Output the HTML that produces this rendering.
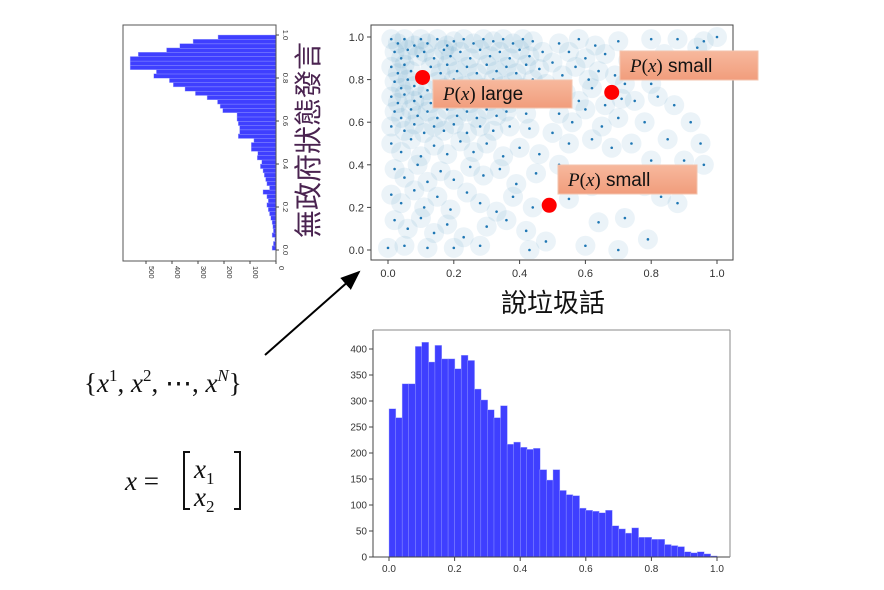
<!DOCTYPE html>
<html><head><meta charset="utf-8">
<style>
html,body{margin:0;padding:0;background:#fff;}
svg{display:block;font-family:"Liberation Sans","DejaVu Sans",sans-serif;}
.math{font-family:"Liberation Serif","DejaVu Serif",serif;font-style:italic;}
</style></head>
<body>
<svg id="root" width="884" height="590" viewBox="0 0 884 590" xmlns="http://www.w3.org/2000/svg">
<defs>
<linearGradient id="sal" x1="0" y1="0" x2="0" y2="1">
<stop offset="0" stop-color="#f7b89d"/><stop offset="1" stop-color="#f19d7c"/>
</linearGradient>
<marker id="ah" markerWidth="10" markerHeight="8" refX="9" refY="4" orient="auto">
<path d="M0,0 L10,4 L0,8 z" fill="#000"/>
</marker>
<clipPath id="sclip"><rect x="372" y="26" width="360" height="233"/></clipPath>
</defs>
<g id="scatter"></g>
<g id="bottomHist"></g>
<g id="leftHist"></g>

<text x="318" y="140" font-size="28" fill="#4a2350" text-anchor="middle" transform="rotate(-90 318 140)" font-family="'Liberation Sans','Noto Sans CJK TC',sans-serif">無政府狀態發言</text>
<text x="553" y="312" font-size="26" fill="#111" text-anchor="middle" font-family="'Liberation Sans','Noto Sans CJK TC',sans-serif">說垃圾話</text>

<line x1="265" y1="355" x2="359" y2="272" stroke="#000" stroke-width="2" marker-end="url(#ah)"/>

<text x="84" y="392" font-size="27" class="math" fill="#111"><tspan font-style="normal">{</tspan>x<tspan font-style="normal" font-size="17" dy="-11">1</tspan><tspan dy="11" font-style="normal">, </tspan>x<tspan font-style="normal" font-size="17" dy="-11">2</tspan><tspan dy="11" font-style="normal">, ⋯, </tspan>x<tspan font-size="17" dy="-11">N</tspan><tspan dy="11" font-style="normal">}</tspan></text>
<g>
<text x="125" y="490" font-size="27" class="math" fill="#111">x <tspan font-style="normal">=</tspan></text>
<path d="M190,452 h-6 v57 h6 M234,452 h6 v57 h-6" fill="none" stroke="#111" stroke-width="2"/>
<text x="194" y="478" font-size="27" class="math" fill="#111">x<tspan font-style="normal" font-size="17" dy="6">1</tspan></text>
<text x="194" y="506" font-size="27" class="math" fill="#111">x<tspan font-style="normal" font-size="17" dy="6">2</tspan></text>
</g>
</svg>
<script>
// ---- data ----
const xHistCounts = [285,268,333,333,405,413,375,407,381,381,362,388,378,323,302,283,268,291,217,221,211,207,209,168,148,168,128,120,118,94,90,88,85,90,60,54,46,56,38,38,34,34,24,22,20,10,8,10,6,2];
// y bins from 0.00 upward
const yHistCounts = [15,10,5,15,10,12,15,20,25,30,35,30,35,50,25,35,40,45,50,60,55,72,70,95,95,85,145,140,140,145,150,150,205,215,225,265,310,350,395,410,470,460,561,561,561,530,421,370,319,223];
const xHistTicks = [0,0.2,0.4,0.6,0.8,1.0];
const xHistTickLabels = ["0.0","0.2","0.4","0.6","0.8","1.0"];
const countTicks = [0,50,100,150,200,250,300,350,400];
const leftCountTicks = [0,100,200,300,400,500];
const scatterX = [.01,.03,.05,.08,.1,.12,.15,.18,.2,.23,.26,.29,.32,.35,.38,.41,.44,
.02,.04,.06,.09,.11,.14,.17,.19,.22,.25,.28,.31,.34,.37,.4,.43,.47,
.01,.03,.05,.07,.13,.16,.18,.21,.24,.27,.3,.33,.36,.39,.42,.46,.5,
.02,.04,.06,.08,.12,.15,.17,.2,.23,.26,.29,.32,.35,.38,.41,.44,.48,
.01,.03,.05,.08,.1,.13,.16,.19,.22,.25,.28,.31,.34,.37,.4,.45,
.02,.04,.07,.09,.12,.15,.18,.21,.24,.27,.3,.33,.36,.42,
.01,.05,.08,.11,.14,.17,.2,.24,.28,.32,.37,.43,
.52,.55,.58,.6,.63,.66,.7,.73,.53,.57,.61,.64,.69,.72,.76,.54,.58,.62,.66,.71,.75,.8,.52,.56,.6,.65,.7,.78,.5,.55,.62,.68,.74,
.01,.04,.07,.1,.14,.18,.22,.26,.3,.35,.4,.46,
.02,.05,.09,.12,.16,.2,.25,.29,.34,.39,.45,.52,.58,
.01,.04,.08,.11,.15,.19,.24,.28,.33,.38,.44,.55,
.02,.06,.1,.14,.18,.23,.3,.36,.42,
.0,.05,.12,.2,.28,.43,.48,.6,.7,
.8,.88,.96,1.0,.84,.9,.94,.82,.87,.92,.85,.95,.8,.9,.96,.78,.88,.83,.72,.79,.64,.62];
const scatterY = [.99,.97,.99,.96,.99,.97,.99,.96,.98,.99,.97,.99,.98,.99,.97,.99,.98,
.93,.9,.94,.91,.93,.9,.94,.91,.93,.9,.94,.91,.93,.9,.94,.91,.93,
.86,.83,.87,.84,.86,.83,.87,.84,.86,.83,.87,.84,.86,.83,.87,.85,.88,
.79,.76,.8,.77,.75,.79,.76,.8,.77,.79,.76,.8,.77,.79,.76,.8,.78,
.72,.69,.73,.7,.72,.69,.73,.7,.72,.69,.73,.7,.72,.69,.73,.71,
.65,.62,.66,.63,.65,.62,.66,.63,.65,.62,.66,.63,.65,.64,
.58,.56,.59,.55,.58,.56,.59,.55,.58,.56,.58,.57,
.97,.93,.99,.9,.96,.92,.98,.89,.82,.86,.8,.84,.82,.78,.85,.74,.7,.76,.68,.71,.7,.78,.64,.6,.66,.58,.62,.6,.55,.5,.52,.48,.5,
.5,.46,.52,.44,.49,.45,.51,.46,.5,.44,.48,.45,
.38,.34,.4,.32,.37,.33,.39,.35,.38,.31,.36,.4,.33,
.26,.22,.28,.2,.25,.19,.27,.22,.18,.25,.2,.24,
.14,.1,.15,.08,.12,.06,.11,.14,.09,
.01,.02,.01,.01,.02,.0,.04,.02,.0,
.99,.99,.98,1.0,.92,.88,.95,.72,.68,.6,.52,.5,.42,.42,.4,.3,.22,.25,.15,.05,.13,.3];
const highlightX = [0.105, 0.68, 0.49];
const highlightY = [0.81, 0.74, 0.21];
const scatterTicks = [0,0.2,0.4,0.6,0.8,1.0];
const scatterTickLabels = ["0.0","0.2","0.4","0.6","0.8","1.0"];

const NS = "http://www.w3.org/2000/svg";
function mk(tag, attrs, parent){ const e=document.createElementNS(NS,tag); for(const k in attrs) e.setAttribute(k,attrs[k]); parent.appendChild(e); return e; }

// ---- scatter ----
(function(){
  const g=document.getElementById('scatter');
  const sx=v=>388+v*(717-388), sy=v=>250-v*(250-37);
  const frame=mk('rect',{x:371,y:25,width:362,height:235,fill:'none',stroke:'#444','stroke-width':1},g);
  
  
  scatterTicks.forEach((t,i)=>{
    mk('line',{x1:sx(t),x2:sx(t),y1:260,y2:264,stroke:'#444'},g);
    const tx=mk('text',{x:sx(t),y:277,'font-size':11,'text-anchor':'middle',fill:'#333'},g);
    tx.textContent=scatterTickLabels[i];
    
    
    mk('line',{x1:367,x2:371,y1:sy(t),y2:sy(t),stroke:'#444'},g);
    const ty=mk('text',{x:364,y:sy(t)+4,'font-size':11,'text-anchor':'end',fill:'#333'},g);
    ty.textContent=scatterTickLabels[i];
    
    
  });
  const halo=mk('g',{'clip-path':'url(#sclip)'},g);
  for(let i=0;i<scatterX.length;i++){
    mk('circle',{cx:sx(scatterX[i]),cy:sy(scatterY[i]),r:10,fill:'#1f77b4','fill-opacity':0.09},halo);
  }
  for(let i=0;i<scatterX.length;i++){
    const c=mk('circle',{cx:sx(scatterX[i]),cy:sy(scatterY[i]),r:1.3,fill:'#1f77b4'},g);
    
    
  }
  const boxes=[[433,80,139,28,'large'],[620,51,138,29,'small'],[558,165,139,29,'small']];
  boxes.forEach(b=>{
    const r=mk('rect',{x:b[0],y:b[1],width:b[2],height:b[3],fill:'url(#sal)',stroke:'#f3c3ad','stroke-width':1},g);
    
    
    const t=mk('text',{x:b[0]+10,y:b[1]+b[3]-8,'font-size':19,fill:'#111'},g);
    t.innerHTML='<tspan font-family="Liberation Serif,serif" font-style="italic">P</tspan><tspan font-family="Liberation Serif,serif">(</tspan><tspan font-family="Liberation Serif,serif" font-style="italic">x</tspan><tspan font-family="Liberation Serif,serif">)</tspan> '+b[4];
    
    
  });
  for(let i=0;i<highlightX.length;i++){
    const c=mk('circle',{cx:sx(highlightX[i]),cy:sy(highlightY[i]),r:7.5,fill:'#f00'},g);
    
    
  }
})();

// ---- bottom histogram ----
(function(){
  const g=document.getElementById('bottomHist');
  const sx=v=>389+v*(717-389), sy=v=>557-v*(208/400);
  const w=1/xHistCounts.length;
  xHistCounts.forEach((c,i)=>{
    const r=mk('rect',{x:sx(i*w),y:sy(c),width:sx((i+1)*w)-sx(i*w)+0.3,height:557-sy(c),fill:'#3f3fff',stroke:'#aab0ff','stroke-width':0.4},g);
    
    
  });
  mk('line',{x1:373,y1:330,x2:373,y2:557,stroke:'#444'},g);
  mk('line',{x1:373,y1:557,x2:730,y2:557,stroke:'#444'},g);
  mk('line',{x1:373,y1:330,x2:730,y2:330,stroke:'#888'},g);
  mk('line',{x1:730,y1:330,x2:730,y2:557,stroke:'#888'},g);
  xHistTicks.forEach((t,i)=>{
    mk('line',{x1:sx(t),x2:sx(t),y1:557,y2:561,stroke:'#444'},g);
    const tx=mk('text',{x:sx(t),y:572,'font-size':10,'text-anchor':'middle',fill:'#333'},g);
    tx.textContent=xHistTickLabels[i];
    
    
  });
  countTicks.forEach(t=>{
    mk('line',{x1:369,x2:373,y1:sy(t),y2:sy(t),stroke:'#444'},g);
    const ty=mk('text',{x:367,y:sy(t)+3.5,'font-size':10,'text-anchor':'end',fill:'#333'},g);
    ty.textContent=String(t);
    
    
  });
})();

// ---- left histogram ----
(function(){
  const g=document.getElementById('leftHist');
  const sv=v=>276-v*(130/500), sy=v=>250-v*(250-35);
  const h=1/yHistCounts.length;
  yHistCounts.forEach((c,i)=>{
    const top=sy((i+1)*h), bot=sy(i*h);
    const r=mk('rect',{x:sv(c),y:top,width:276-sv(c),height:bot-top+0.3,fill:'#3f3fff',stroke:'#aab0ff','stroke-width':0.4},g);
    
    
  });
  mk('rect',{x:123,y:25,width:153,height:236,fill:'none',stroke:'#555'},g);
  scatterTicks.forEach((t,i)=>{
    mk('line',{x1:276,x2:279,y1:sy(t),y2:sy(t),stroke:'#444'},g);
    const tx=mk('text',{x:283,y:sy(t),'font-size':7.5,'text-anchor':'middle',fill:'#333',transform:`rotate(90 283 ${sy(t)})`},g);
    tx.textContent=scatterTickLabels[i];
    
    
  });
  leftCountTicks.forEach(t=>{
    mk('line',{x1:sv(t),x2:sv(t),y1:261,y2:264,stroke:'#444'},g);
    const tx=mk('text',{x:sv(t)+3,y:266,'font-size':7.5,'text-anchor':'start',fill:'#333',transform:`rotate(90 ${sv(t)+3} 266)`},g);
    tx.textContent=String(t);
    
    
  });
})();
</script>
</body></html>
